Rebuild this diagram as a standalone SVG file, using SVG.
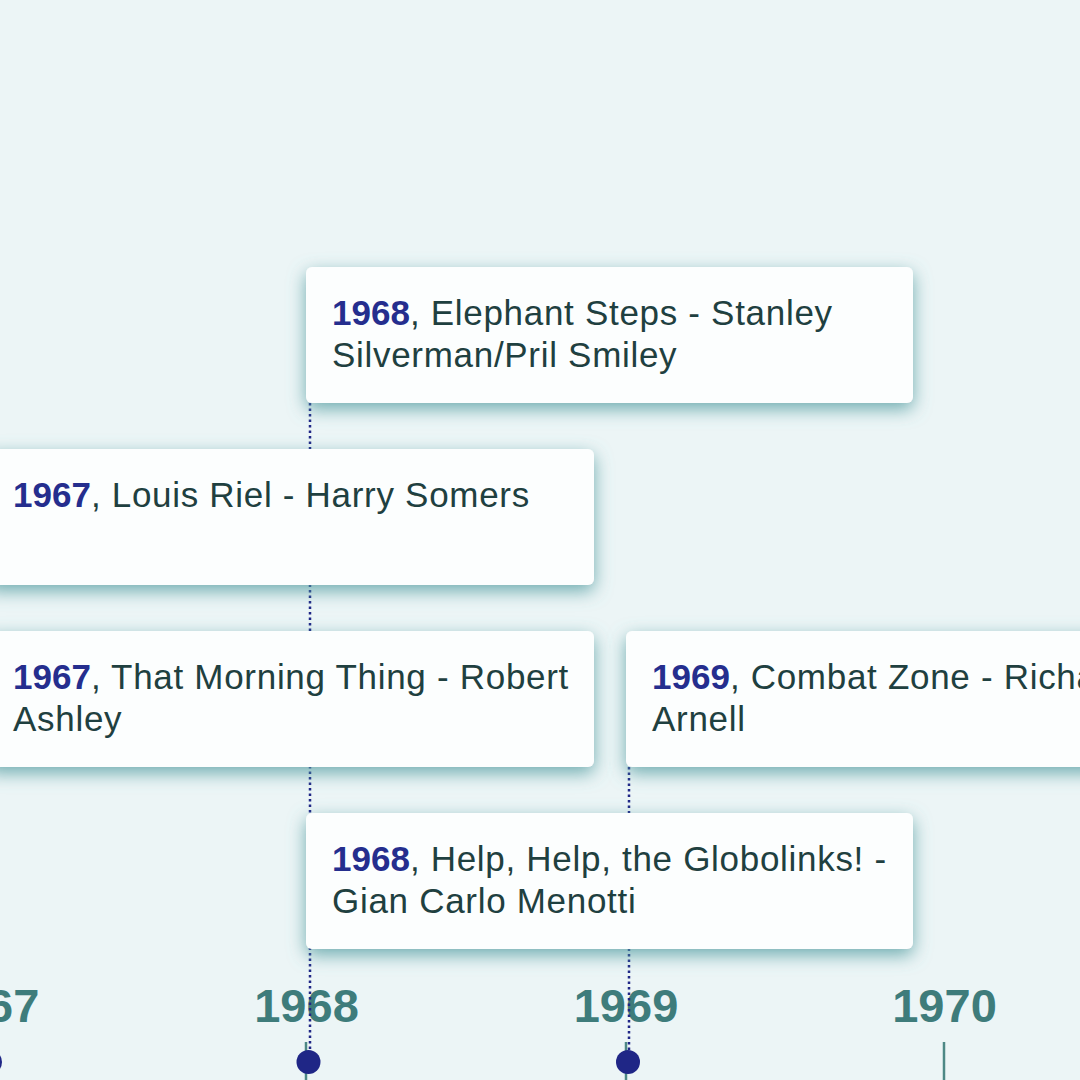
<svg xmlns="http://www.w3.org/2000/svg" width="1080" height="1080" viewBox="0 0 1080 1080">
<defs>
<filter id="sh" x="-10%" y="-25%" width="120%" height="170%">
<feDropShadow dx="0" dy="6" stdDeviation="9" flood-color="#4f9a9e" flood-opacity="0.8"/>
</filter>
<style>
.card{fill:#fcfefe;filter:url(#sh);}
.t{font-family:"Liberation Sans",Arial,sans-serif;font-size:35px;fill:#1f4040;letter-spacing:0.7px;}
.y{font-weight:bold;fill:#252e8e;letter-spacing:0;}
.ax{font-family:"Liberation Sans",Arial,sans-serif;font-size:47px;font-weight:bold;fill:#3e7c7b;text-anchor:middle;}
.tick{stroke:#4d8885;stroke-width:2.5;}
.dot{fill:#1f2686;}
.conn{stroke:#1f2686;stroke-width:2.5;stroke-dasharray:2.5 3;fill:none;}
</style>
</defs>
<rect width="1080" height="1080" fill="#ecf5f6"/>
<g id="axis">
<line class="tick" x1="-13" y1="1042" x2="-13" y2="1080"/>
<line class="tick" x1="306" y1="1042" x2="306" y2="1080"/>
<line class="tick" x1="626" y1="1042" x2="626" y2="1080"/>
<line class="tick" x1="944" y1="1042" x2="944" y2="1080"/>
<text class="ax" x="-13" y="1022">1967</text>
<text class="ax" x="306.5" y="1022">1968</text>
<text class="ax" x="626" y="1022">1969</text>
<text class="ax" x="944.5" y="1022">1970</text>
</g>
<g id="connectors">
<line class="conn" x1="310" y1="403" x2="310" y2="1062"/>
<line class="conn" x1="629" y1="767" x2="629" y2="1062"/>
</g>
<g id="dots">
<circle class="dot" cx="-10" cy="1062" r="12"/>
<circle class="dot" cx="308.5" cy="1062" r="12"/>
<circle class="dot" cx="628" cy="1062" r="12"/>
</g>
<g id="card-1968-elephant">
<rect class="card" x="306" y="267" width="607" height="136" rx="6"/>
<text class="t" x="332" y="325"><tspan class="y">1968</tspan>, Elephant Steps - Stanley</text>
<text class="t" x="332" y="367">Silverman/Pril Smiley</text>
</g>
<g id="card-1967-riel">
<rect class="card" x="-13" y="449" width="607" height="136" rx="6"/>
<text class="t" x="13" y="507"><tspan class="y">1967</tspan>, Louis Riel - Harry Somers</text>
</g>
<g id="card-1967-morning">
<rect class="card" x="-13" y="631" width="607" height="136" rx="6"/>
<text class="t" x="13" y="689"><tspan class="y">1967</tspan>, That Morning Thing - Robert</text>
<text class="t" x="13" y="731">Ashley</text>
</g>
<g id="card-1969-combat">
<rect class="card" x="626" y="631" width="607" height="136" rx="6"/>
<text class="t" x="652" y="689"><tspan class="y">1969</tspan>, Combat Zone - Richard</text>
<text class="t" x="652" y="731">Arnell</text>
</g>
<g id="card-1968-help">
<rect class="card" x="306" y="813" width="607" height="136" rx="6"/>
<text class="t" x="332" y="871"><tspan class="y">1968</tspan>, Help, Help, the Globolinks! -</text>
<text class="t" x="332" y="913">Gian Carlo Menotti</text>
</g>
</svg>
